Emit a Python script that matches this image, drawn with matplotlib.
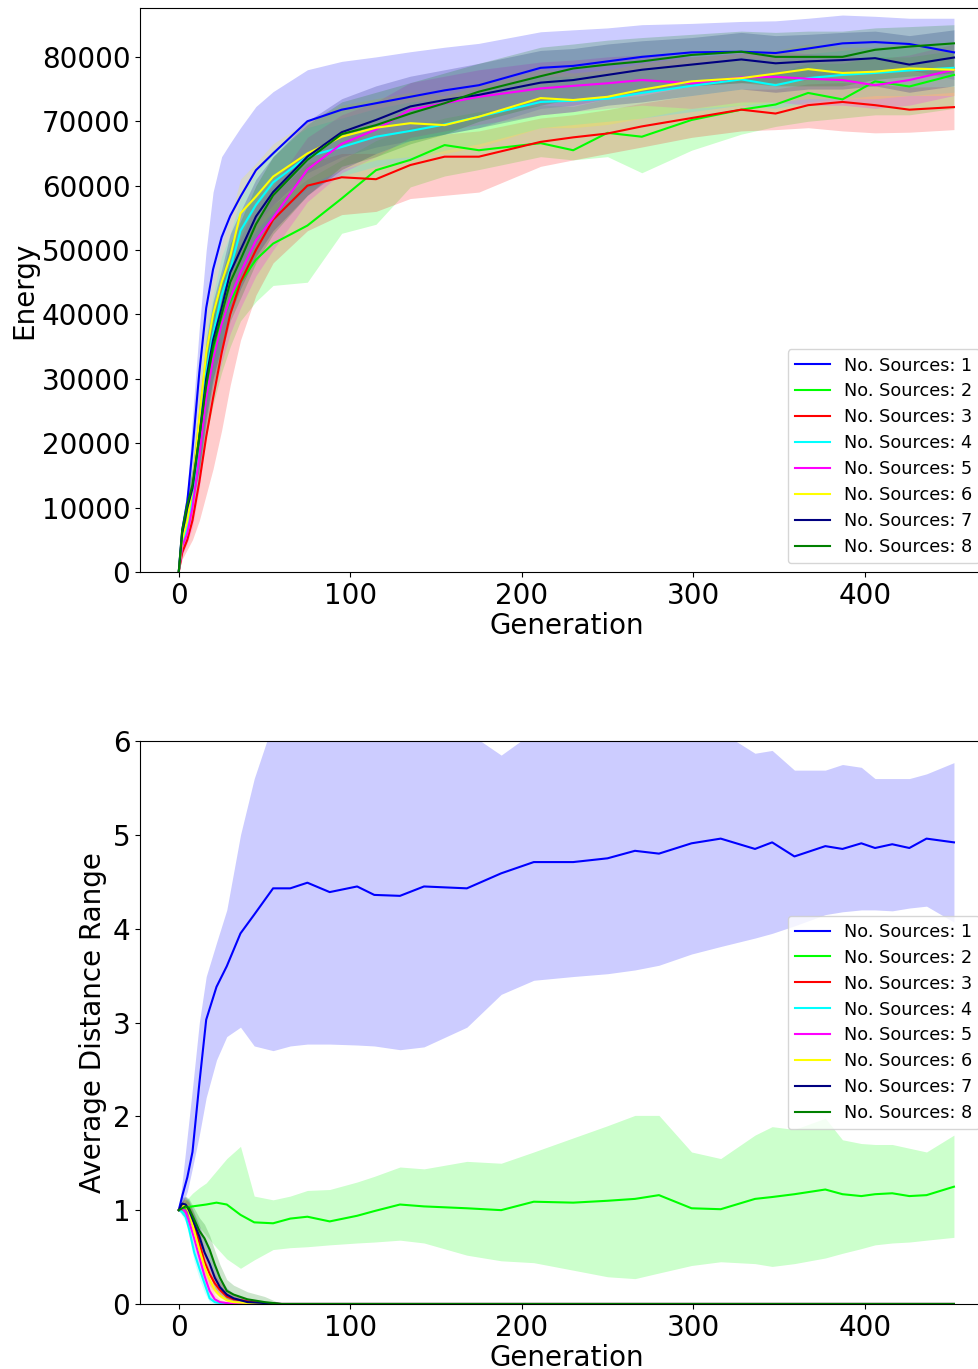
import matplotlib
matplotlib.use("Agg")
import matplotlib.pyplot as plt
import numpy as np

# --- energy plot (values in thousands) ---
gen_top = [0, 2, 5, 8, 12, 16, 20, 25, 30, 36, 45, 55, 75, 95, 115, 135, 155, 175,
           211, 230, 250, 270, 299, 328, 348, 367, 387, 406, 426, 452]

e1 = [0, 6.5, 11, 19, 31, 41, 47, 52, 55.3, 58.3, 62.4, 65, 70, 71.8, 72.8, 73.8, 74.8, 75.6, 78.3, 78.6, 79.3, 80, 80.7, 80.8, 80.6, 81.3, 82.1, 82.3, 82, 80.7]
e1_lo = [0, 4, 8, 12, 20, 30, 37, 42, 46, 50, 54, 57, 62, 64.5, 66, 67, 68, 69, 72, 72.5, 73.5, 74.5, 75.5, 76, 76, 76.5, 77.5, 78, 78, 76.5]
e1_hi = [0, 7.5, 13, 24, 38, 50, 59, 64.5, 66.6, 69, 72.3, 74.6, 78, 79.3, 80, 80.8, 81.5, 82.1, 83.9, 84.2, 84.5, 85, 85.2, 85.5, 85.6, 86, 86.5, 86.3, 86, 86]

e2 = [0, 5, 8, 12, 20, 28, 34, 39, 42, 45, 48.5, 51, 53.8, 58, 62.4, 64, 66.3, 65.5, 66.6, 65.5, 68.2, 67.6, 70.2, 71.8, 72.6, 74.4, 73.4, 76.2, 75.4, 77.2]
e2_lo = [0, 3, 6, 9, 15, 21, 26, 31, 35, 39, 42, 44.5, 45, 52.6, 54, 59.8, 61.5, 62.5, 64.5, 64, 64.5, 62, 65.5, 68, 69.2, 70, 70.5, 71, 71, 72]
e2_hi = [0, 6.5, 10, 15, 25, 34, 40, 45, 48, 51, 54, 57, 61, 64, 67, 69, 70.5, 71.5, 72.5, 72.3, 73.5, 74, 75.5, 77, 77.5, 79, 79, 80, 80, 81]

e3 = [0, 3, 5, 8, 14, 21, 27, 34, 40, 45, 50, 54.7, 60, 61.3, 61, 63.2, 64.5, 64.5, 66.8, 67.5, 68.1, 69.2, 70.5, 71.8, 71.2, 72.5, 73, 72.5, 71.8, 72.2]
e3_lo = [0, 2, 3.5, 5, 8, 12, 16, 22, 29, 36, 43, 48, 53, 55.5, 56, 58, 58.5, 59, 63, 64, 65, 66, 67.5, 68.5, 68.7, 69, 68.5, 68.2, 68.3, 68.7]
e3_hi = [0, 4.5, 7, 11, 19, 27, 34, 41, 46, 50, 54.5, 58.5, 63.5, 65, 65, 67, 68, 68.5, 70.5, 71, 71.8, 72.8, 74, 75, 75, 75.8, 76, 75.8, 75.3, 75.4]

e4 = [0, 4.5, 7, 11, 21, 31, 37, 43, 47, 53, 57, 60.5, 64.5, 66, 67.6, 68.5, 69.5, 70.7, 73, 73.2, 73.5, 74.4, 75.5, 76.5, 75.6, 76.7, 77.2, 77.5, 77.9, 78.3]
e4_lo = [0, 3, 5, 8, 15, 24, 30, 36, 41, 47, 51.5, 55, 59.5, 61.5, 63, 64, 65.5, 66.5, 69, 69.5, 70, 70.5, 71.5, 72.5, 72, 73, 73.5, 74, 74, 74.5]
e4_hi = [0, 6, 9, 14, 26, 37, 43, 49, 52.5, 58, 62, 65.5, 69, 70.5, 72, 73, 73.5, 74.5, 77, 77, 77.5, 78, 79, 80, 79.5, 80.5, 81, 81.5, 81.5, 82]

e5 = [0, 4, 6, 10, 18, 27, 33, 38.5, 42.5, 46.5, 51.5, 55, 62.5, 66.5, 68.7, 71.8, 72.8, 73.8, 75.1, 75.5, 75.9, 76.4, 75.9, 76.8, 76.9, 76.6, 76.4, 75.6, 76.4, 78]
e5_lo = [0, 2.5, 4.5, 7, 13, 21, 27, 32.5, 37, 41, 46, 50, 57.5, 62, 64.5, 67.5, 68.5, 69.5, 71, 71.5, 72, 72.5, 72, 73, 73, 72.5, 72.5, 72, 72.5, 74]
e5_hi = [0, 5.5, 8, 13, 23, 33, 39, 44.5, 48, 52, 57, 60, 67.5, 71, 73, 76, 77, 78, 79.2, 79.5, 80, 80.3, 80, 80.6, 80.8, 80.5, 80.3, 79.6, 80.3, 82]

e6 = [0, 5, 8, 13, 24, 34, 40, 45, 49, 55.7, 58.3, 61.4, 65, 67.6, 69, 69.7, 69.4, 70.7, 73.6, 73.3, 73.8, 74.9, 76.2, 76.7, 77.4, 78.1, 77.5, 77.7, 78.2, 78]
e6_lo = [0, 3.5, 6, 9, 18, 27, 33, 38, 43, 49.5, 53, 56, 60, 62.5, 64, 64.5, 65, 66, 69, 69, 69.5, 70.5, 72, 72.5, 73, 73.5, 73.5, 73.5, 74, 74]
e6_hi = [0, 6.5, 10, 17, 30, 40, 46, 51, 55, 61, 63.5, 66.5, 70, 72.5, 73.5, 74.5, 74, 75.5, 78, 77.5, 78, 79, 80, 80.5, 81, 82, 81.5, 81.5, 82, 82]

e7 = [0, 6, 10, 13, 21, 30, 36, 41, 46.5, 50, 55.2, 59, 64.5, 68.3, 70.2, 72.3, 73.3, 74.1, 76, 76.4, 77.2, 78, 78.8, 79.6, 79, 79.3, 79.5, 79.8, 78.8, 79.9]
e7_lo = [0, 4.5, 8, 10.5, 16, 24, 30, 35, 40, 44, 49, 53, 58.5, 62.5, 65, 67, 68, 69, 71, 71.5, 72.5, 73, 74, 75, 74.5, 75, 75, 75.5, 74.5, 75.5]
e7_hi = [0, 7.5, 12, 16, 26, 36, 42, 47, 52.5, 56, 61, 64.5, 70, 73.5, 75.5, 77, 78, 79, 81, 81.3, 82, 82.5, 83, 83.8, 83.3, 83.5, 83.8, 84, 83.3, 84.2]

e8 = [0, 6.5, 10.5, 13.5, 21, 29, 35, 40, 45, 48.5, 54, 58.5, 64, 68, 69.4, 71.2, 72.8, 74.6, 77, 78.2, 78.8, 79.3, 80.3, 80.8, 80, 80, 80, 81.1, 81.6, 82.1]
e8_lo = [0, 5, 8.5, 11, 16, 23, 29, 34, 39, 42.5, 48, 52.5, 58.5, 63, 64.5, 66.5, 68, 70, 72.5, 73.5, 74, 74.5, 75.5, 76, 75.5, 75.5, 75.5, 76.5, 77, 77.5]
e8_hi = [0, 8, 12.5, 16, 26, 35, 41, 46, 51, 54.5, 60, 64.5, 69.5, 73, 74.5, 76, 77.5, 79, 81.5, 82, 82.6, 83, 83.5, 84, 83.8, 84, 84, 84.5, 84.7, 85]

# --- distance plot ---
gen_bot = [0, 2, 5, 8, 12, 16, 22, 28, 36, 44, 55, 65, 75, 88, 104, 114, 129, 143, 168, 188,
           207, 230, 250, 266, 280, 299, 316, 336, 346, 359, 377, 387, 398, 406, 416, 426, 436, 452]

d1 = [1.0, 1.15, 1.35, 1.62, 2.35, 3.03, 3.38, 3.6, 3.95, 4.15, 4.43, 4.43, 4.49, 4.39, 4.45, 4.36, 4.35, 4.45, 4.43, 4.59, 4.71, 4.71, 4.75, 4.83, 4.8, 4.91, 4.96, 4.85, 4.92, 4.77, 4.88, 4.85, 4.91, 4.86, 4.9, 4.86, 4.96, 4.92]
d1_lo = [1.0, 1.05, 1.2, 1.45, 1.8, 2.2, 2.6, 2.85, 2.95, 2.75, 2.7, 2.75, 2.77, 2.77, 2.76, 2.75, 2.71, 2.74, 2.95, 3.3, 3.45, 3.49, 3.52, 3.56, 3.61, 3.73, 3.81, 3.9, 3.95, 4.03, 4.15, 4.18, 4.2, 4.2, 4.19, 4.22, 4.24, 4.07]
d1_hi = [1.0, 1.3, 1.8, 2.3, 3.0, 3.49, 3.85, 4.2, 5.0, 5.6, 6.2, 6.5, 6.4, 6.1, 6.05, 6.2, 6.1, 6.2, 6.1, 5.85, 6.1, 6.0, 6.3, 6.3, 6.2, 6.2, 6.1, 5.87, 5.9, 5.69, 5.69, 5.75, 5.72, 5.6, 5.6, 5.6, 5.65, 5.77]

d2 = [1.0, 1.01, 1.03, 1.04, 1.05, 1.06, 1.08, 1.06, 0.95, 0.87, 0.86, 0.91, 0.93, 0.88, 0.94, 0.99, 1.06, 1.04, 1.02, 1.0, 1.09, 1.08, 1.1, 1.12, 1.16, 1.02, 1.01, 1.12, 1.14, 1.17, 1.22, 1.17, 1.15, 1.17, 1.18, 1.15, 1.16, 1.25]
d2_lo = [1.0, 0.98, 0.95, 0.89, 0.82, 0.73, 0.6, 0.48, 0.38, 0.47, 0.58, 0.6, 0.61, 0.63, 0.65, 0.66, 0.68, 0.65, 0.52, 0.46, 0.44, 0.36, 0.29, 0.27, 0.33, 0.41, 0.45, 0.43, 0.4, 0.43, 0.49, 0.54, 0.59, 0.63, 0.65, 0.66, 0.68, 0.71]
d2_hi = [1.0, 1.06, 1.12, 1.18, 1.24, 1.29, 1.42, 1.55, 1.68, 1.15, 1.11, 1.15, 1.21, 1.22, 1.3, 1.36, 1.46, 1.44, 1.52, 1.5, 1.62, 1.77, 1.9, 2.01, 2.01, 1.62, 1.55, 1.8, 1.89, 1.86, 1.98, 1.75, 1.71, 1.7, 1.7, 1.66, 1.62, 1.8]

gen_drop = [0, 2, 4, 6, 9, 12, 15, 18, 21, 24, 28, 32, 40, 50, 60, 452]

d3 = [1.0, 1.04, 1.05, 1.0, 0.85, 0.65, 0.45, 0.32, 0.22, 0.15, 0.08, 0.05, 0.03, 0.01, 0, 0]
d3_lo = [1.0, 0.98, 0.97, 0.9, 0.74, 0.52, 0.33, 0.2, 0.12, 0.07, 0.03, 0.01, 0, 0, 0, 0]
d3_hi = [1.0, 1.1, 1.12, 1.08, 0.95, 0.78, 0.58, 0.44, 0.32, 0.24, 0.14, 0.09, 0.06, 0.02, 0, 0]

d4 = [1.0, 0.98, 0.93, 0.8, 0.55, 0.38, 0.22, 0.06, 0.02, 0.01, 0, 0, 0, 0, 0, 0]
d4_lo = [1.0, 0.94, 0.87, 0.72, 0.45, 0.27, 0.12, 0.02, 0, 0, 0, 0, 0, 0, 0, 0]
d4_hi = [1.0, 1.03, 1.0, 0.9, 0.66, 0.5, 0.33, 0.13, 0.05, 0.02, 0.01, 0, 0, 0, 0, 0]

d5 = [1.0, 1.02, 0.98, 0.88, 0.7, 0.5, 0.3, 0.14, 0.05, 0.02, 0.01, 0, 0, 0, 0, 0]
d5_lo = [1.0, 0.96, 0.9, 0.78, 0.58, 0.37, 0.18, 0.06, 0.01, 0, 0, 0, 0, 0, 0, 0]
d5_hi = [1.0, 1.08, 1.06, 0.98, 0.82, 0.63, 0.42, 0.24, 0.1, 0.05, 0.02, 0.01, 0, 0, 0, 0]

d6 = [1.0, 1.04, 1.05, 0.98, 0.78, 0.58, 0.4, 0.26, 0.15, 0.09, 0.04, 0.02, 0.01, 0, 0, 0]
d6_lo = [1.0, 0.98, 0.97, 0.88, 0.66, 0.45, 0.28, 0.15, 0.07, 0.03, 0.01, 0, 0, 0, 0, 0]
d6_hi = [1.0, 1.1, 1.12, 1.07, 0.9, 0.7, 0.52, 0.37, 0.24, 0.16, 0.08, 0.04, 0.02, 0.01, 0, 0]

d7 = [1.0, 1.07, 1.06, 1.0, 0.86, 0.72, 0.55, 0.43, 0.28, 0.18, 0.1, 0.06, 0.02, 0.01, 0, 0]
d7_lo = [1.0, 1.0, 0.98, 0.9, 0.75, 0.6, 0.42, 0.3, 0.17, 0.09, 0.04, 0.02, 0, 0, 0, 0]
d7_hi = [1.0, 1.14, 1.14, 1.1, 0.97, 0.84, 0.68, 0.56, 0.4, 0.28, 0.17, 0.11, 0.05, 0.02, 0, 0]

d8 = [1.0, 1.02, 1.04, 1.02, 0.9, 0.78, 0.7, 0.58, 0.42, 0.28, 0.14, 0.1, 0.05, 0.02, 0, 0]
d8_lo = [1.0, 0.95, 0.92, 0.9, 0.78, 0.64, 0.55, 0.43, 0.28, 0.15, 0.05, 0.02, 0, 0, 0, 0]
d8_hi = [1.0, 1.1, 1.15, 1.12, 1.02, 0.92, 0.85, 0.73, 0.57, 0.42, 0.26, 0.2, 0.13, 0.08, 0, 0]

labels = ["No. Sources: %d" % i for i in range(1, 9)]
colors = ["#0000ff", "#00ff00", "#ff0000", "#00ffff", "#ff00ff", "#ffff00", "#000080", "#008000"]

energy = [(e1, e1_lo, e1_hi), (e2, e2_lo, e2_hi), (e3, e3_lo, e3_hi), (e4, e4_lo, e4_hi),
          (e5, e5_lo, e5_hi), (e6, e6_lo, e6_hi), (e7, e7_lo, e7_hi), (e8, e8_lo, e8_hi)]
dist = [(gen_bot, d1, d1_lo, d1_hi), (gen_bot, d2, d2_lo, d2_hi),
        (gen_drop, d3, d3_lo, d3_hi), (gen_drop, d4, d4_lo, d4_hi),
        (gen_drop, d5, d5_lo, d5_hi), (gen_drop, d6, d6_lo, d6_hi),
        (gen_drop, d7, d7_lo, d7_hi), (gen_drop, d8, d8_lo, d8_hi)]

fs = 20
fig = plt.figure(figsize=(9.79, 13.69), dpi=100)
ax1 = fig.add_axes([0.143, 0.5822, 0.871, 0.412])
ax2 = fig.add_axes([0.143, 0.0475, 0.871, 0.4112])

# energy
for (m, lo, hi), c, lab in zip(energy, colors, labels):
    k = 1000
    ax1.fill_between(gen_top, np.array(lo) * k, np.array(hi) * k, color=c, alpha=0.2, lw=0)
    ax1.plot(gen_top, np.array(m) * k, color=c, lw=1.5, label=lab)
ax1.set_ylim(0, 87600)
ax1.set_xticks([0, 100, 200, 300, 400])
ax1.set_yticks(range(0, 80001, 10000))
ax1.set_xlabel("Generation", fontsize=fs, labelpad=2)
ax1.set_ylabel("Energy", fontsize=fs, labelpad=2)
ax1.tick_params(labelsize=fs)
ax1.legend(loc="lower right", bbox_to_anchor=(0.995, 0.0), fontsize=12.7, labelspacing=0.45)

# distance
for (g, m, lo, hi), c, lab in zip(dist, colors, labels):
    ax2.fill_between(g, lo, hi, color=c, alpha=0.2, lw=0)
    ax2.plot(g, m, color=c, lw=1.5, label=lab)
ax2.set_ylim(0, 6)
ax2.set_xticks([0, 100, 200, 300, 400])
ax2.set_xlabel("Generation", fontsize=fs, labelpad=2)
ax2.set_ylabel("Average Distance Range", fontsize=fs)
ax2.tick_params(labelsize=fs)
ax2.legend(loc="center right", bbox_to_anchor=(0.995, 0.5), fontsize=12.7, labelspacing=0.45)

fig.savefig("out.png", dpi=100)
